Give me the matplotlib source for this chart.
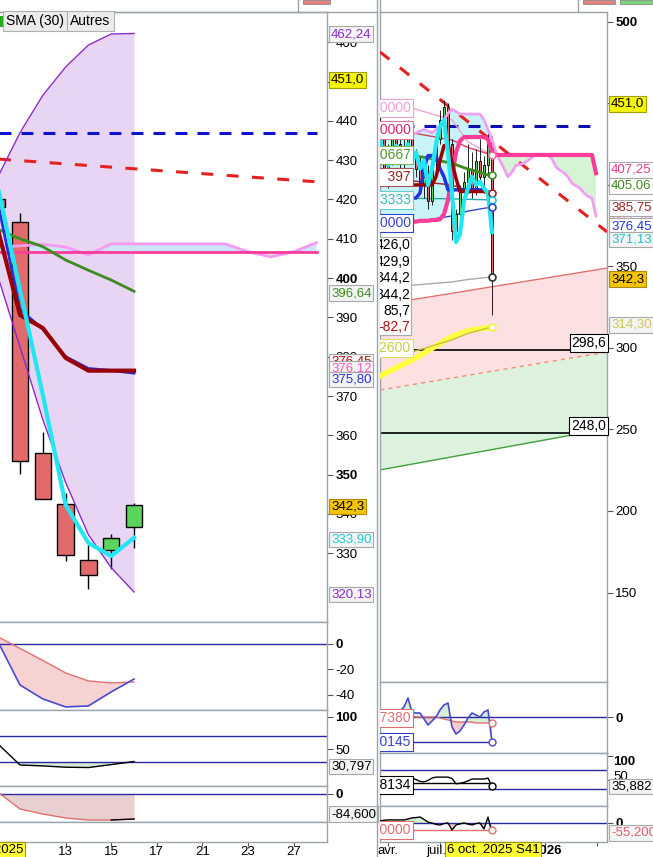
import matplotlib
matplotlib.use("Agg")
import matplotlib.pyplot as plt
from matplotlib.patches import Rectangle
from matplotlib.lines import Line2D
from matplotlib.transforms import blended_transform_factory

plt.rcParams['font.family'] = ['Liberation Sans', 'DejaVu Sans']

W, H = 653, 857

# ---------------- daily chart (left) : 8 oct -> 16 oct 2025 ----------------
d_idx = [-1, 0, 1, 2, 3, 4, 5]
d_open = [420.2, 414.3, 355.5, 342.5, 328.3, 330.8, 336.7]
d_high = [420.2, 416.6, 360.9, 345.3, 332.1, 334.9, 342.8]
d_low = [418.1, 350.2, 343.8, 328.0, 320.9, 326.0, 331.3]
d_close = [418.1, 353.5, 343.8, 329.6, 324.5, 333.9, 342.3]
d_bb_up = [425.4, 437.0, 446.5, 453.7, 459.3, 462.1, 462.24]
d_bb_low = [401.0, 382.5, 364.0, 348.0, 334.7, 326.3, 320.13]
d_tenkan = [424.0, 397.0, 370.3, 342.3, 332.6, 329.3, 333.9]
d_kijun = [413.0, 390.6, 387.3, 379.7, 376.45, 376.45, 376.45]
d_blue = [420.0, 392.0, 387.0, 380.0, 377.0, 376.5, 375.8]
d_sma30 = [412.5, 410.0, 408.0, 404.6, 402.0, 399.5, 396.64]

d_cloud_idx = [-1, 0, 1, 2, 3, 4, 5, 6, 7, 8, 9, 10, 11, 12, 13]
d_span_a = [407.9, 408.2, 408.6, 407.9, 405.9, 408.7, 408.7, 408.7, 408.7, 408.7,
            408.7, 406.7, 405.4, 406.7, 409.0]
d_span_b = [406.7, 406.7, 406.7, 406.7, 406.7, 406.7, 406.7, 406.7, 406.7, 406.7,
            406.7, 406.7, 406.7, 406.7, 406.7]

d_line_idx = [-1, 13]
d_trend = [430.3, 424.5]
d_resist = [437.0, 437.0]

d_osc_red = [6.0, -3.5, -12.9, -22.7, -29.0, -30.6, -29.8]
d_osc_blue = [3.0, -32.2, -43.1, -49.4, -48.6, -37.6, -27.5]
d_rsi = [59.0, 25.4, 24.0, 22.0, 21.5, 26.0, 30.797]
d_mom = [8.0, -50.7, -67.6, -81.0, -87.8, -87.8, -84.6]
d_mom_tail_idx = [4, 5]
d_mom_tail = [-87.8, -84.6]

d_tick_idx = [0, 2, 4, 6, 8, 10, 12]
d_tick_lab = ['', '13', '15', '17', '21', '23', '27']

# ---------------- weekly chart (right) : week 0 = 31 mars 2025 ----------------
w_idx = list(range(-3, 27))
w_open = [428, 432, 430, 410, 420, 428, 425, 415, 424, 436, 418, 410, 400, 405, 390,
          415, 428, 440, 448, 425, 372, 382, 396, 402, 410, 398, 415, 405, 412, 426]
w_high = [440, 442, 436, 425, 432, 438, 430, 428, 440, 438, 422, 418, 410, 412, 418,
          432, 446, 452, 450, 428, 385, 400, 408, 425, 420, 422, 428, 418, 432, 429.9]
w_low = [420, 425, 405, 398, 412, 420, 410, 408, 420, 415, 405, 395, 392, 385, 388,
         410, 425, 432, 420, 366, 365, 378, 388, 395, 392, 394, 400, 395, 405, 320]
w_close = [432, 430, 410, 420, 428, 425, 415, 424, 436, 418, 410, 400, 405, 390, 415,
           428, 440, 448, 425, 372, 382, 396, 402, 410, 398, 415, 405, 412, 426, 344.2]
w_tenkan = [432, 428, 418, 412, 418, 424, 420, 418, 425, 415, 420, 410, 415, 400, 410,
            425, 436, 440, 420, 395, 365, 370, 390, 398, 405, 400, 402, 398, 395, 371.13]
w_kijun = [392, 392, 392, 392, 392, 392, 392, 392, 392, 392, 392, 395, 410, 418, 418,
           418, 410, 405, 397, 397, 397, 397, 397, 397, 397, 397, 397, 397, 395, 376.45]
w_maroon = [402, 402, 401, 400, 400, 400, 400, 400, 400, 400, 400, 400, 400, 400, 400,
            405, 415, 424, 425, 414, 404, 396, 396, 396, 396, 396, 396, 396, 396, 385.75]
w_sma30 = [419.6, 419.4, 419.2, 419.0, 418.8, 418.6, 418.4, 418.3, 418.1, 417.9,
           417.6, 417.3, 417.0, 416.6, 416.0, 415.3, 414.8, 414.3, 413.8, 413.3,
           412.4, 411.5, 410.6, 409.8, 409.2, 408.5, 407.8, 407.0, 406.1, 405.06]

w_cloud = list(range(-3, 53))
w_span_a = [431, 432, 433, 433, 432, 431, 430, 430, 430, 431, 432, 433, 434, 433, 432, 434,
            436, 440, 444, 446.5, 445, 443.5, 443.5, 443.5, 443.5, 443.5, 443.5, 440, 434, 428,
            420, 415, 410, 405, 408, 412, 412.5, 413.5, 415, 417, 418.4, 418.4, 418.4, 418.4,
            416, 411, 409, 407.4, 405, 401, 399.5, 398, 395, 393, 392, 381]
w_span_b = [377.0, 377.0, 377.0, 377.0, 377.0, 377.0, 377.0, 377.0, 377.0, 377.5, 377.5,
            378.0, 378.0, 378.0, 378.5, 378.5, 379.0, 382.0, 390.8, 405.0, 420.0, 427.0,
            429.4, 429.4, 429.4, 429.4, 429.4, 429.4, 428.0, 420.0,
            418.4, 418.4, 418.4, 418.4, 418.4, 418.4, 418.4, 418.4, 418.4, 418.4, 418.4,
            418.4, 418.4, 418.4, 418.4, 418.4, 418.4, 418.4, 418.4, 418.4, 418.4, 418.4,
            418.4, 418.4, 418.4, 407.25]

thin_w = [-2, 6, 16, 20, 26]
w_thin_pink = [450.3, 447.2, 439.9, 426.4, 418.4]
w_thin_crimson = [433.7, 432.0, 427.6, 423.0, 418.4]
w_thin_darkred = [404.3, 402.5, 400.0, 396.5, 395.0]
w_thin_teal = [392.0, 391.8, 391.5, 391.2, 390.8]
w_thin_blue = [374.2, 377.0, 381.0, 384.0, 386.5]
w_thin_gray = [337.4, 338.5, 340.5, 342.0, 343.6]
w_thin_yellow = [300.0, 297.5, 305.0, 309.0, 312.9]
w_yellow = [282.8, 292.6, 307.0, 310.5, 312.9]

chan_w = [-2, 54.75]
chan_top = [326.4, 349.0]
chan_mid = [274.2, 297.5]
chan_bot = [225.2, 250.5]
w_trend = [481.6, 371.2]
w_lvl_w = [-2, 52.5]
w_resist = [436.2, 436.2]
w_supports = [298.6, 248.0]

ra_macd = [0, 0, 2, 3, 4, 5, 6, 10, 19, 5, 4, 4, -2, -8, -4, 0, 7, 12, 14, -10,
           -17, -14, -8, -1, 4, 2, 0, 5, 7, -25]
ra_signal = [0, 0, 0, 1, 1, 1, 1, 1, 1, 1, 0, 0, 0, 0, 0, 0, -1, -2, -3, -4,
             -5, -5, -5, -5, -5, -6, -6, -6, -6, -6]
rb_rsi = [52, 53, 53, 54, 54, 55, 55, 55, 54, 53, 50, 46, 45, 48, 53, 55, 55, 55, 55, 52,
          41, 42, 44, 47, 51, 51, 51, 51, 53, 35.882]
rc_mom = [10, 12, 15, 17, 17, 17, 17, 17, 22, 28, 30, 33, 20, 5, 0, -8, -11, -3, 0, -38,
          -11, -5, 0, -6, -11, -3, 0, -33, 33, -55.2]
sub_lvl_w = [-2, 26]
ra_lvl = [-25, -25]
rb_lvl = [43, 43]
rc_lvl = [-38.6, -38.6]

w_tick_pos = [0, 13, 26.3, 39.3, 52.3]
w_lab_pos = [0, 12.1, 39.8]
w_lab = ['avr.', 'juil.', '2026']

# ------------------------------------------------------------------------------
fig = plt.figure(figsize=(W / 100, H / 100), dpi=100)
FRAME = '#9aa4ac'


def add_ax(x0, y0, x1, y1):
    return fig.add_axes([x0 / W, 1 - y1 / H, (x1 - x0) / W, (y1 - y0) / H])


def prep(ax, xlim, ylim, left_spine=False):
    ax.set_xlim(*xlim)
    ax.set_ylim(*ylim)
    ax.set_xticks([])
    ax.yaxis.tick_right()
    ax.tick_params(axis='y', direction='out', length=4, width=0.8, color='#555555',
                   labelsize=9.5, pad=2)
    for sp in ax.spines.values():
        sp.set_color(FRAME)
        sp.set_linewidth(1)
    ax.spines['left'].set_visible(left_spine)


def yticks(ax, vals, bold=(), hidden=()):
    ax.set_yticks(vals)
    labs = ax.set_yticklabels(['' if v in hidden else str(v) for v in vals])
    for lb in labs:
        if lb.get_text() in bold:
            lb.set_fontweight('bold')


def tag(ax, y, s, color='black', fc='#f4f4f4', ec='#a8a8a8', dy=0):
    tr = blended_transform_factory(ax.transAxes, ax.transData)
    ax.annotate(s, xy=(1, y), xycoords=tr, xytext=(4, dy), textcoords='offset pixels',
                ha='left', va='center', fontsize=9.5, color=color,
                bbox=dict(boxstyle='square,pad=0.12', fc=fc, ec=ec, lw=0.8),
                annotation_clip=False, zorder=20)


def candles(ax, xs, o, h, l, c, width, lw):
    for x, oo, hh, ll, cc in zip(xs, o, h, l, c):
        col = '#5ad45a' if cc >= oo else '#e26a6a'
        ax.vlines(x, ll, hh, color='black', lw=lw, zorder=4)
        ax.add_patch(Rectangle((x - width / 2, min(oo, cc)), width, abs(cc - oo),
                               fc=col, ec='black', lw=lw, zorder=5))


def cloud(ax, xs, a, b, up_col, z=1.5):
    ax.fill_between(xs, a, b, where=[p >= q for p, q in zip(a, b)], interpolate=True,
                    color=up_col, lw=0, zorder=z)
    ax.fill_between(xs, a, b, where=[p < q for p, q in zip(a, b)], interpolate=True,
                    color='#d6f3d6', lw=0, zorder=z)


# ---------------- left panels ----------------
LX0 = (-0.877, 13.46)
L = add_ax(0, 12, 327, 622)
L1 = add_ax(0, 622, 327, 710)
L2 = add_ax(0, 710, 327, 786)
L3 = add_ax(0, 786, 327, 822)
LX = add_ax(0, 822, 327, 842)
prep(L, LX0, (312.5, 467.7))
prep(L1, LX0, (-51.8, 17.25))
prep(L2, LX0, (-6.9, 110))
prep(L3, LX0, (-94.6, 27))
prep(LX, LX0, (0, 1))
LX.set_yticks([])

yticks(L, [330, 340, 350, 360, 370, 380, 390, 400, 410, 420, 430, 440, 450, 460],
       bold=('400', '350'), hidden=(450,))
L.fill_between(d_idx, d_bb_low, d_bb_up, color='#e8d5f4', lw=0, zorder=1)
cloud(L, d_cloud_idx, d_span_a, d_span_b, '#cde3f8')
L.plot(d_line_idx, d_resist, color='#1010d0', lw=2.2, dashes=(3.9, 3.3), zorder=3)
L.plot(d_line_idx, d_trend, color='#e52020', lw=2.2, dashes=(3.9, 4.4), zorder=3)
candles(L, d_idx, d_open, d_high, d_low, d_close, 0.72, 1.0)
L.plot(d_idx, d_bb_up, color='#8a2bc8', lw=1, zorder=6)
L.plot(d_idx, d_bb_low, color='#8a2bc8', lw=1, zorder=6)
L.plot(d_cloud_idx, d_span_a, color='#f59af0', lw=2, zorder=6)
L.plot(d_cloud_idx, d_span_b, color='#ff3c9a', lw=2, zorder=6)
L.plot(d_idx, d_sma30, color='#3c8c1e', lw=2, zorder=7)
L.plot(d_idx, d_blue, color='#2233dd', lw=2, zorder=7)
L.plot(d_idx, d_kijun, color='#990000', lw=3, zorder=8)
L.plot(d_idx, d_tenkan, color='#22e6f2', lw=3, zorder=9)

tag(L, 462.1, '462,24', color='#8a2bc8')
tag(L, 450.4, '451,0', fc='#f5f500', ec='#a0a000')
tag(L, 396.2, '396,64', color='#3c8c1e')
tag(L, 378.7, '376,45', color='#aa1111')
tag(L, 376.9, '376,12', color='#ff55c8')
tag(L, 374.1, '375,80', color='#2233dd')
tag(L, 341.8, '342,3', fc='#f5c400', ec='#b08a00')
tag(L, 333.4, '333,90', color='#22c8d8')
tag(L, 319.6, '320,13', color='#8a2bc8')

# oscillator 1
yticks(L1, [-40, -20, 0], bold=('0',))
L1.axhline(0, color='#2a2aa0', lw=1, zorder=2)
L1.fill_between(d_idx, d_osc_blue, d_osc_red, where=[b <= r for b, r in zip(d_osc_blue, d_osc_red)],
                interpolate=True, color='#f6d2d2', lw=0, zorder=1)
L1.plot(d_idx, d_osc_red, color='#e07070', lw=1, zorder=3)
L1.plot(d_idx, d_osc_blue, color='#4a4ad0', lw=1.2, zorder=4)

# oscillator 2
yticks(L2, [50, 100], bold=('100',))
L2.axhline(70, color='#2a2aa0', lw=1, zorder=2)
L2.axhline(30, color='#2a2aa0', lw=1, zorder=2)
L2.fill_between(d_idx, d_rsi, 30, where=[v <= 30 for v in d_rsi], interpolate=True,
                color='#d5ead5', lw=0, zorder=1)
L2.plot(d_idx, d_rsi, color='black', lw=1, zorder=3)
tag(L2, 30.797, '30,797', dy=-5)

# oscillator 3
yticks(L3, [0], bold=('0',))
L3.axhline(0, color='#2a2aa0', lw=1, zorder=2)
L3.fill_between(d_idx, d_mom, 0, color='#e8d0d0', lw=0, zorder=1)
L3.plot(d_idx, d_mom, color='#e07070', lw=1, zorder=3)
L3.plot(d_mom_tail_idx, d_mom_tail, color='black', lw=1, zorder=4)
tag(L3, -84.6, '-84,600', dy=5)

LX.set_xticks(d_tick_idx)
LX.set_xticklabels(d_tick_lab)
LX.tick_params(axis='x', direction='out', length=3, width=0.8, color='#555555', labelsize=9.5, pad=0)

# ---------------- right panels ----------------
RX0 = (-2, 54.75)
R = add_ax(380, 12, 607, 682)
RA = add_ax(380, 682, 607, 753)
RB = add_ax(380, 753, 607, 806)
RC = add_ax(380, 806, 607, 842)
prep(R, RX0, (95.1, 506.1), left_spine=True)
prep(RA, RX0, (-36, 35), left_spine=True)
prep(RB, RX0, (-5.8, 105.8), left_spine=True)
prep(RC, RX0, (-104.9, 93.8), left_spine=True)

yticks(R, [150, 200, 250, 300, 350, 400, 450, 500], bold=('500',), hidden=(400, 450))
R.fill_between(chan_w, chan_mid, chan_top, color='#fbe1e1', lw=0, zorder=0.5)
R.fill_between(chan_w, chan_bot, chan_mid, color='#dcf2dc', lw=0, zorder=0.5)
R.plot(chan_w, chan_top, color='#e07070', lw=1, zorder=1)
R.plot(chan_w, chan_mid, color='#f09070', lw=1, dashes=(3, 3), zorder=1)
R.plot(chan_w, chan_bot, color='#40a040', lw=1, zorder=1)
for v, s in zip(w_supports, ['298,6', '248,0']):
    R.plot(chan_w, [v, v], color='black', lw=1.2, zorder=2)
    R.text(54.6, v, s, ha='right', va='bottom', fontsize=10, zorder=12,
           bbox=dict(boxstyle='square,pad=0.15', fc='white', ec='black', lw=0.8))

cloud(R, w_cloud, w_span_a, w_span_b, '#c8f4f8', z=1)
R.plot(w_lvl_w, w_resist, color='#1010b0', lw=2.2, dashes=(3.9, 3.3), zorder=3)
R.plot(chan_w, w_trend, color='#e52020', lw=2.2, dashes=(3.9, 4.4), zorder=3)

R.plot(thin_w, w_thin_pink, color='#f0a0d8', lw=1, zorder=4)
R.plot(thin_w, w_thin_crimson, color='#d04060', lw=1, zorder=4)
R.plot(thin_w, w_thin_darkred, color='#992222', lw=1, zorder=4)
R.plot(thin_w, w_thin_teal, color='#22aaaa', lw=1, zorder=4)
R.plot(thin_w, w_thin_blue, color='#3344cc', lw=1, zorder=4)
R.plot(thin_w, w_thin_gray, color='#a8a8a8', lw=1, zorder=4)
R.plot(thin_w, w_yellow, color='#ffff40', lw=4, zorder=4)
R.plot(thin_w, w_thin_yellow, color='#c8c040', lw=1, zorder=4)

candles(R, w_idx, w_open, w_high, w_low, w_close, 0.6, 0.6)
R.plot(w_cloud, w_span_a, color='#f0a0f0', lw=2, zorder=6)
R.plot(w_cloud, w_span_b, color='#ff3c9a', lw=3, zorder=6)
R.plot(w_idx, w_sma30, color='#3c8c1e', lw=2, zorder=7)
R.plot(w_idx, w_kijun, color='#2233dd', lw=2.5, zorder=7)
R.plot(w_idx, w_maroon, color='#990000', lw=2.5, zorder=8)
R.plot(w_idx, w_tenkan, color='#22e6f2', lw=3, zorder=9)

for ys, col in [(w_thin_pink, '#f06aa8'), (w_sma30[-2:-1], '#3c8c1e'), (w_thin_darkred, '#992222'),
                (w_thin_teal, '#22c8d8'), (w_thin_blue, '#3344cc'), (w_thin_gray, '#333333'),
                (w_yellow, '#f0f040')]:
    R.plot(thin_w[-1], ys[-1], 'o', ms=5, mfc='white', mec=col, mew=1.2, zorder=10)

for s, y, tc, ec in [('441,0000', 447.2, '#f0a0d8', '#f0a0d8'),
                     ('431,0000', 433.7, '#dd2266', '#dd7799'),
                     ('418,0667', 418.4, '#4a9a2a', '#7aba5a'),
                     ('    397', 404.9, '#992222', '#aa5555'),
                     ('390,3333', 390.8, '#33bbbb', '#66cccc'),
                     ('378,0000', 376.7, '#3344cc', '#3344cc'),
                     ('300,2600', 300.0, '#cccc44', '#dddd66')]:
    R.text(5.75, y, s, ha='right', va='center', fontsize=10, color=tc, clip_on=True, zorder=15,
           bbox=dict(boxstyle='square,pad=0.15', fc='white', ec=ec, lw=0.8))
R.add_patch(Rectangle((-3, 308.0), 8.85, 60.1, fc='white', ec='#aaaaaa', lw=0.8, zorder=14))
for s, y, tc in [('426,0', 363.2, 'black'), ('429,9', 352.8, 'black'), ('344,2', 342.9, 'black'),
                 ('344,2', 332.5, 'black'), ('85,7', 322.7, 'black'), ('-82,7', 312.9, '#aa1111')]:
    R.text(5.6, y, s, ha='right', va='center', fontsize=10, color=tc, clip_on=True, zorder=15)

tag(R, 449.7, '451,0', fc='#f5f500', ec='#a0a000')
tag(R, 409.2, '407,25', color='#e83c8c', fc='white')
tag(R, 399.4, '405,06', color='#3c8c1e', fc='white')
tag(R, 381.0, '384,48', color='#e090e0', fc='white')
tag(R, 385.9, '385,75', color='#992222', fc='white')
tag(R, 374.8, '376,45', color='#2233dd', fc='white')
tag(R, 366.3, '371,13', color='#22c0d0')
tag(R, 342.3, '342,3', fc='#f5c400', ec='#b08a00')
tag(R, 314.1, '314,30', color='#d0c850')

# sub panel A
yticks(RA, [0], bold=('0',))
RA.axhline(0, color='#2a2aa0', lw=1, zorder=2)
RA.plot(sub_lvl_w, ra_lvl, color='#2a2aa0', lw=1, zorder=2)
RA.fill_between(w_idx, ra_macd, ra_signal, where=[m >= s for m, s in zip(ra_macd, ra_signal)],
                interpolate=True, color='#d5efd5', lw=0, zorder=1)
RA.fill_between(w_idx, ra_macd, ra_signal, where=[m < s for m, s in zip(ra_macd, ra_signal)],
                interpolate=True, color='#f5cccc', lw=0, zorder=1)
RA.plot(w_idx, ra_signal, color='#e07070', lw=1, zorder=3)
RA.plot(w_idx, ra_macd, color='#4a4ad0', lw=1.2, zorder=4)
RA.plot(sub_lvl_w[-1], ra_signal[-1], 'o', ms=5, mfc='white', mec='#e07070', zorder=6)
RA.plot(sub_lvl_w[-1], ra_lvl[-1], 'o', ms=5, mfc='white', mec='#4a4ad0', zorder=6)
RA.text(5.75, -1, '0,7380', ha='right', va='center', fontsize=10, color='#e07070', clip_on=True,
        zorder=15, bbox=dict(boxstyle='square,pad=0.15', fc='white', ec='#e07070', lw=0.8))
RA.text(5.75, -25, '0,0145', ha='right', va='center', fontsize=10, color='#3344cc', clip_on=True,
        zorder=15, bbox=dict(boxstyle='square,pad=0.15', fc='white', ec='#3344cc', lw=0.8))

# sub panel B
RB.set_yticks([50, 100])
RB.tick_params(axis='y', labelright=False)
RB.axhline(70, color='#2a2aa0', lw=1, zorder=2)
RB.axhline(30, color='#2a2aa0', lw=1, zorder=2)
RB.plot(sub_lvl_w, rb_lvl, color='black', lw=1, zorder=2)
RB.plot(w_idx, rb_rsi, color='black', lw=1, zorder=3)
RB.plot(sub_lvl_w[-1], rb_rsi[-1], 'o', ms=5, mfc='white', mec='black', zorder=6)
RB.text(5.75, 38.4, '0,8134', ha='right', va='center', fontsize=10, color='black', clip_on=True,
        zorder=15, bbox=dict(boxstyle='square,pad=0.15', fc='white', ec='black', lw=0.8))
trb = blended_transform_factory(RB.transAxes, RB.transData)
RB.annotate('100', xy=(1, 100), xycoords=trb, xytext=(6, -6), textcoords='offset pixels',
            ha='left', va='center', fontsize=9.5, fontweight='bold', annotation_clip=False)
RB.annotate('50', xy=(1, 50), xycoords=trb, xytext=(6, 2), textcoords='offset pixels',
            ha='left', va='center', fontsize=9.5, annotation_clip=False)
tag(RB, 35.882, '35,882')

# sub panel C
yticks(RC, [0], bold=('0',))
RC.axhline(0, color='#2a2aa0', lw=1, zorder=2)
RC.plot(sub_lvl_w, rc_lvl, color='#e07070', lw=1, zorder=2)
RC.fill_between(w_idx, rc_mom, 0, where=[m >= 0 for m in rc_mom], interpolate=True,
                color='#d5efd5', lw=0, zorder=1)
RC.fill_between(w_idx, rc_mom, 0, where=[m < 0 for m in rc_mom], interpolate=True,
                color='#f5cccc', lw=0, zorder=1)
RC.plot(w_idx, rc_mom, color='black', lw=1, zorder=3)
RC.plot(sub_lvl_w[-1], rc_lvl[-1], 'o', ms=5, mfc='white', mec='#e07070', zorder=6)
RC.text(5.75, -38.6, '0,0000', ha='right', va='center', fontsize=10, color='#e07070', clip_on=True,
        zorder=15, bbox=dict(boxstyle='square,pad=0.15', fc='white', ec='#e07070', lw=0.8))
tag(RC, -55.2, '-55,200', color='#e06070')

# week ticks on the bottom axis, labels drawn as text under them
RC.set_xticks(w_tick_pos)
RC.set_xticklabels([''] * len(w_tick_pos))
RC.tick_params(axis='x', direction='out', length=3, width=0.8, color='#555555')
trx = blended_transform_factory(RC.transData, fig.transFigure)
for xp, s in zip(w_lab_pos, w_lab):
    RC.text(xp, 1 - 851 / H, s, transform=trx, ha='center', va='center', fontsize=9.5,
            fontweight='bold' if s == '2026' else 'normal', clip_on=False)

# ---------------- chrome: tabs, separators, date boxes ----------------
fig.add_artist(Line2D([377.5 / W, 377.5 / W], [0, 1], color=FRAME, lw=1))
fig.add_artist(Line2D([380 / W, 380 / W], [1 - 12 / H, 1], color=FRAME, lw=1))
fig.add_artist(Line2D([298 / W, 298 / W], [1 - 12 / H, 1], color=FRAME, lw=1))
fig.add_artist(Line2D([578 / W, 578 / W], [1 - 12 / H, 1], color=FRAME, lw=1))
fig.add_artist(Line2D([0, 377 / W], [1 - 12 / H, 1 - 12 / H], color=FRAME, lw=1))
for x0, w0, fc in [(303, 27, '#e88080'), (583, 32, '#e88080'), (620, 33, '#7ad87a')]:
    fig.add_artist(Rectangle((x0 / W, 1 - 4 / H), w0 / W, 4 / H, transform=fig.transFigure,
                             fc=fc, ec='#888888', lw=0.6))

fig.text(6 / W, 1 - 21 / H, 'SMA (30)', fontsize=10, ha='left', va='center',
         bbox=dict(boxstyle='square,pad=0.25', fc='#ececec', ec='#b0b0b0', lw=0.8))
fig.text(70 / W, 1 - 21 / H, 'Autres', fontsize=10, ha='left', va='center',
         bbox=dict(boxstyle='square,pad=0.25', fc='#ececec', ec='#b0b0b0', lw=0.8))
fig.add_artist(Rectangle((0, 1 - 27 / H), 3 / W, 11 / H, transform=fig.transFigure,
                         fc='#22aa22', ec='none'))

fig.text(23 / W, 1 - 850 / H, '9 oct. 2025', fontsize=9.5, ha='right', va='center',
         bbox=dict(boxstyle='square,pad=0.15', fc='#ffff33', ec='#999900', lw=0.8))
fig.text(493 / W, 1 - 850 / H, '6 oct. 2025 S41', fontsize=9.5, ha='center', va='center',
         bbox=dict(boxstyle='square,pad=0.15', fc='#ffff33', ec='#999900', lw=0.8))

fig.savefig('out.png', dpi=100)
